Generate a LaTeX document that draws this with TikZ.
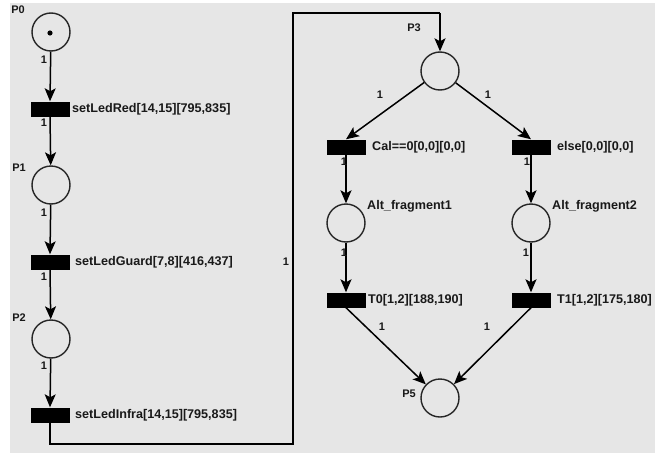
\documentclass[tikz,border=0pt]{standalone}
\usepackage{fontspec}
\setmainfont{Liberation Sans}
\usetikzlibrary{arrows.meta}
\definecolor{bggrey}{HTML}{E6E6E6}
\begin{document}
\begin{tikzpicture}[x=1pt,y=-1pt,
  place/.style={draw=black!85, circle, line width=1.4pt, minimum size=38pt, inner sep=0pt},
  trans/.style={fill=black, draw=none, minimum width=39pt, minimum height=15pt, inner sep=0pt, rectangle},
  arc/.style={line width=1.5pt, -{Stealth[length=13pt,width=11pt,inset=3pt]}},
  plain/.style={line width=1.5pt},
  lbl/.style={font=\bfseries\fontsize{12.6}{13}\selectfont, text=black!90, inner sep=0pt, anchor=west},
  plbl/.style={font=\bfseries\fontsize{11}{12}\selectfont, text=black!90, inner sep=0pt},
  wt/.style={font=\bfseries\fontsize{11}{12}\selectfont, text=black!90, inner sep=0pt}]
\useasboundingbox (0,0) rectangle (662,458);
\fill[white] (0,0) rectangle (662,458);
\fill[bggrey] (10,3) rectangle (655,453);
% places
\node[place] (p0) at (51,32) {};
\fill (50,33) circle (2.6pt);
\node[place] (p1) at (51,185) {};
\node[place] (p2) at (51,339) {};
\node[place] (p3) at (440,71) {};
\node[place] (a1) at (346,223) {};
\node[place] (a2) at (531,223) {};
\node[place] (p5) at (440,398) {};
% transitions
\node[trans] (tred) at (50,109) {};
\node[trans] (tguard) at (50,262) {};
\node[trans] (tinfra) at (50,415) {};
\node[trans] (tcal) at (346,147) {};
\node[trans] (telse) at (531,147) {};
\node[trans] (tzero) at (346,300) {};
\node[trans] (tone) at (531,300) {};
% place labels
\node[plbl] (lp0) at (18,10) {P0};
\node[plbl] (lp1) at (19,168) {P1};
\node[plbl] (lp2) at (19,318) {P2};
\node[plbl] (lp3) at (414,28) {P3};
\node[plbl] (lp5) at (409,394) {P5};
\node[lbl] (la1) at (367,206) {Alt\_fragment1};
\node[lbl] (la2) at (552,206) {Alt\_fragment2};
% transition labels
\node[lbl] (ltred) at (72,109) {setLedRed[14,15][795,835]};
\node[lbl] (ltguard) at (75,262) {setLedGuard[7,8][416,437]};
\node[lbl] (ltinfra) at (75,415) {setLedInfra[14,15][795,835]};
\node[lbl] (ltcal) at (372,147) {Cal==0[0,0][0,0]};
\node[lbl] (ltelse) at (557,147) {else[0,0][0,0]};
\node[lbl] (ltzero) at (368,300) {T0[1,2][188,190]};
\node[lbl] (ltone) at (557,300) {T1[1,2][175,180]};
% arcs
\draw[arc] (p0) -- (tred.north);
\draw[arc] (tred.south) -- (p1);
\draw[arc] (p1) -- (tguard.north);
\draw[arc] (tguard.south) -- (p2);
\draw[arc] (p2) -- (tinfra.north);
\coordinate (c1) at (293,444);
\coordinate (c2) at (440,13);
\draw[plain] (tinfra.south) |- (c1) |- (c2);
\draw[arc] (c2) -- (p3);
\draw[arc] (p3) -- (tcal.north);
\draw[arc] (p3) -- (telse.north);
\draw[arc] (tcal.south) -- (a1);
\draw[arc] (telse.south) -- (a2);
\draw[arc] (a1) -- (tzero.north);
\draw[arc] (a2) -- (tone.north);
\draw[arc] (tzero.south) -- (p5);
\draw[arc] (tone.south) -- (p5);
% weights
\node[wt] at (44,60) {1};
\node[wt] at (44,123) {1};
\node[wt] at (44,213) {1};
\node[wt] at (44,277) {1};
\node[wt] at (44,366) {1};
\node[wt] at (286,262) {1};
\node[wt] at (380,95) {1};
\node[wt] at (488,95) {1};
\node[wt] at (344,162) {1};
\node[wt] at (527,162) {1};
\node[wt] at (344,253) {1};
\node[wt] at (526,253) {1};
\node[wt] at (382,327) {1};
\node[wt] at (487,327) {1};
\end{tikzpicture}
\end{document}
